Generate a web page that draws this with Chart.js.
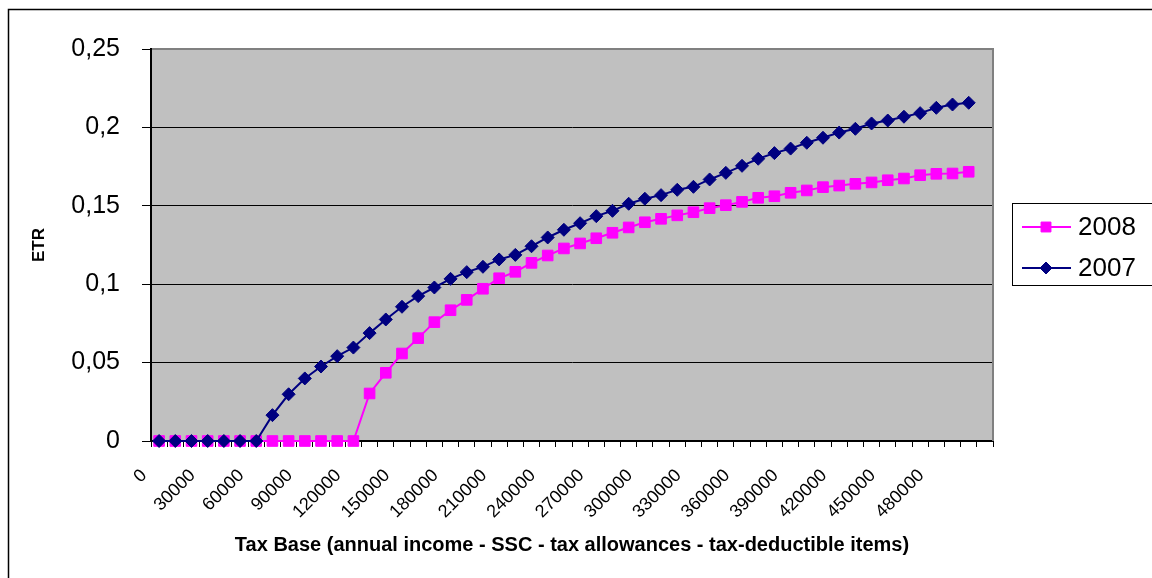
<!DOCTYPE html>
<html>
<head>
<meta charset="utf-8">
<title>ETR 2007 / 2008</title>
<script src="https://cdn.jsdelivr.net/npm/chart.js@4.4.1/dist/chart.umd.min.js"></script>
<style>
  html, body { margin: 0; padding: 0; background: #fff; }
  #wrap { width: 1152px; height: 578px; }
</style>
</head>
<body>
<div id="wrap"><canvas id="etr" width="1152" height="578"></canvas></div>
<script>
// tax base categories (last slot is an empty category)
const taxBase = [
  '0', '10000', '20000', '30000', '40000', '50000', '60000', '70000', '80000', '90000',
  '100000', '110000', '120000', '130000', '140000', '150000', '160000', '170000', '180000', '190000',
  '200000', '210000', '220000', '230000', '240000', '250000', '260000', '270000', '280000', '290000',
  '300000', '310000', '320000', '330000', '340000', '350000', '360000', '370000', '380000', '390000',
  '400000', '410000', '420000', '430000', '440000', '450000', '460000', '470000', '480000', '490000',
  '500000', ''
];

const etr2008 = [
  0, 0, 0, 0, 0, 0, 0, 0, 0, 0,
  0, 0, 0, 0.0303, 0.0435, 0.0558, 0.0656, 0.0758, 0.0834, 0.0900,
  0.0971, 0.1038, 0.1079, 0.1136, 0.1183, 0.1228, 0.1260, 0.1293, 0.1328, 0.1362,
  0.1395, 0.1417, 0.1439, 0.1459, 0.1485, 0.1504, 0.1525, 0.1551, 0.1561, 0.1583,
  0.1598, 0.1619, 0.1629, 0.1640, 0.1649, 0.1663, 0.1674, 0.1695, 0.1704, 0.1706,
  0.1717, null
];

const etr2007 = [
  0, 0, 0, 0, 0, 0, 0, 0.0165, 0.0298, 0.0399,
  0.0475, 0.0541, 0.0596, 0.0688, 0.0775, 0.0856, 0.0924, 0.0979, 0.1034, 0.1077,
  0.1111, 0.1158, 0.1187, 0.1242, 0.1298, 0.1347, 0.1389, 0.1434, 0.1468, 0.1513,
  0.1545, 0.1568, 0.1602, 0.1621, 0.1668, 0.1710, 0.1755, 0.1800, 0.1836, 0.1865,
  0.1902, 0.1934, 0.1967, 0.1991, 0.2025, 0.2044, 0.2068, 0.2091, 0.2125, 0.2146,
  0.2157, null
];

const labelEvery = 3;
const FONT = '"Liberation Sans", Arial, sans-serif';

// white page, outer frame and grey plot area
const frame = {
  id: 'frame',
  beforeDraw(chart) {
    const { ctx, chartArea: a } = chart;
    ctx.save();
    ctx.fillStyle = '#fff';
    ctx.fillRect(0, 0, chart.width, chart.height);
    ctx.strokeStyle = '#000';
    ctx.lineWidth = 1.5;
    ctx.strokeRect(8.5, 9.5, chart.width, chart.height);
    ctx.fillStyle = '#c0c0c0';
    ctx.fillRect(a.left, a.top, a.right - a.left, a.bottom - a.top);
    ctx.restore();
  },
  beforeDatasetsDraw(chart) {
    const { ctx, chartArea: a } = chart;
    ctx.save();
    ctx.strokeStyle = '#808080';
    ctx.lineWidth = 2;
    ctx.beginPath();
    ctx.moveTo(a.left + 1, a.top);
    ctx.lineTo(a.right, a.top);
    ctx.lineTo(a.right, a.bottom);
    ctx.stroke();
    ctx.restore();
  }
};

// boxed legend on the right, 2008 listed first
const sideLegend = {
  id: 'sideLegend',
  afterDraw(chart) {
    const { ctx } = chart;
    const bx = 1012.5, by = 203.5, bw = 140, bh = 82;
    ctx.save();
    ctx.fillStyle = '#fff';
    ctx.fillRect(bx, by, bw, bh);
    ctx.strokeStyle = '#000';
    ctx.lineWidth = 1;
    ctx.strokeRect(bx, by, bw, bh);
    const items = chart.data.datasets.slice().reverse();
    items.forEach((ds, i) => {
      const y = 227 + i * 41;
      ctx.strokeStyle = ds.borderColor;
      ctx.fillStyle = ds.backgroundColor;
      ctx.lineWidth = ds.borderWidth;
      ctx.beginPath();
      ctx.moveTo(1022, y);
      ctx.lineTo(1071, y);
      ctx.stroke();
      ctx.lineWidth = 1;
      Chart.helpers.drawPoint(ctx, {
        pointStyle: ds.pointStyle,
        radius: ds.legendRadius,
        borderWidth: 1,
        rotation: 0
      }, 1046, y);
      ctx.fillStyle = '#000';
      ctx.font = '26px ' + FONT;
      ctx.textBaseline = 'middle';
      ctx.textAlign = 'left';
      ctx.fillText(ds.label, 1078, y + 1);
    });
    ctx.restore();
  }
};

new Chart(document.getElementById('etr'), {
  type: 'line',
  data: {
    labels: taxBase,
    datasets: [
      {
        label: '2007',
        data: etr2007,
        borderColor: '#000080',
        backgroundColor: '#000080',
        borderWidth: 2,
        pointStyle: 'rectRot',
        pointRadius: 6.5,
        legendRadius: 6,
        pointBorderWidth: 1,
        clip: false,
        tension: 0
      },
      {
        label: '2008',
        data: etr2008,
        borderColor: '#ff00ff',
        backgroundColor: '#ff00ff',
        borderWidth: 2,
        pointStyle: 'rect',
        pointRadius: 7.5,
        legendRadius: 7,
        pointBorderWidth: 1,
        clip: false,
        tension: 0
      }
    ]
  },
  options: {
    responsive: false,
    animation: false,
    events: [],
    layout: { padding: { top: 49, right: 159, left: 0, bottom: 0 } },
    plugins: {
      legend: { display: false },
      tooltip: { enabled: false }
    },
    scales: {
      x: {
        type: 'category',
        offset: true,
        afterFit(scale) { scale.height = 137; },
        grid: {
          offset: true,
          drawOnChartArea: false,
          drawTicks: true,
          tickLength: 6,
          color: '#000',
          lineWidth: 1
        },
        border: { display: true, color: '#000', width: 2 },
        ticks: {
          autoSkip: false,
          minRotation: 45,
          maxRotation: 45,
          padding: 18,
          labelOffset: -15,
          color: '#000',
          font: { family: FONT, size: 18 },
          callback(value, index) {
            return index % labelEvery === 0 ? taxBase[index] : '';
          }
        },
        title: {
          display: true,
          text: 'Tax Base (annual income - SSC - tax allowances - tax-deductible items)',
          color: '#000',
          font: { family: FONT, size: 20, weight: 'bold' },
          padding: { top: 0, bottom: 21 }
        }
      },
      y: {
        min: 0,
        max: 0.25,
        afterFit(scale) { scale.width = 151; },
        grid: {
          color: '#000',
          lineWidth: 1,
          drawTicks: true,
          tickLength: 9
        },
        border: { display: true, color: '#000', width: 2 },
        ticks: {
          stepSize: 0.05,
          padding: 22,
          color: '#000',
          font: { family: FONT, size: 25 },
          callback(value) {
            return String(Math.round(value * 100) / 100).replace('.', ',');
          }
        },
        title: {
          display: true,
          text: 'ETR',
          color: '#000',
          font: { family: FONT, size: 17, weight: 'bold' },
          padding: { top: 29, bottom: 0 }
        }
      }
    }
  },
  plugins: [frame, sideLegend]
});
</script>
</body>
</html>
